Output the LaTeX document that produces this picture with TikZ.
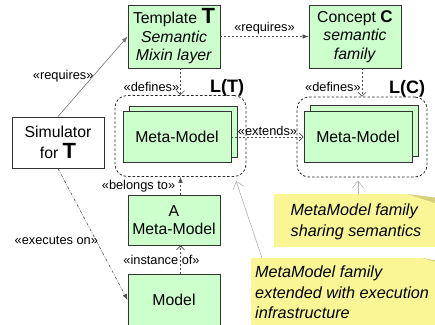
\documentclass[tikz,border=0pt]{standalone}
\usepackage{fontspec}
\setmainfont{Liberation Sans}
\usetikzlibrary{positioning,arrows.meta,calc}
\definecolor{boxgreen}{HTML}{CCFFCC}
\definecolor{notefill}{HTML}{FAF696}
\definecolor{foldfill}{HTML}{D6D07A}
\definecolor{edge}{HTML}{333333}
\newcommand\bxfont{\fontsize{15.8}{18.5}\selectfont}
\newcommand\lblfont{\fontsize{12.8}{14}\selectfont}
\newcommand\ntfont{\fontsize{16.2}{20.5}\selectfont\itshape}
\newcommand\bigT[1]{{\fontsize{22}{18}\selectfont\bfseries #1}}
\tikzset{
  box/.style={
    draw=edge, line width=0.9pt, fill=boxgreen,
    minimum width=92pt, align=center, font=\bxfont, inner sep=2pt
  },
  mm/.style={
    draw=edge, line width=0.9pt, fill=boxgreen,
    minimum width=108pt, minimum height=51pt, font=\bxfont
  },
  family/.style={
    draw=black!85, line width=0.8pt, dash pattern=on 2.5pt off 2pt,
    rounded corners=12pt
  },
  famlabel/.style={font=\fontsize{18}{20}\selectfont\bfseries, inner sep=0pt},
  lbl/.style={font=\lblfont, inner sep=1pt},
  dep/.style={draw=black!70, line width=0.6pt, dash pattern=on 2pt off 2pt},
  filled/.style={-{Latex[length=6pt,width=4.5pt]}},
  open/.style={-{Straight Barb[length=4pt,width=8pt]}},
  notelink/.style={draw=black!30, line width=0.6pt,
    -{Straight Barb[length=7pt,width=11pt]}},
  notetext/.style={font=\ntfont, align=left, inner sep=2pt}
}
\begin{document}
\begin{tikzpicture}[x=1pt,y=-1pt]
  \useasboundingbox (0,0) rectangle (435,324);
  \clip (0,0) rectangle (435,324);

  % notes
  \fill[notefill] (274,194) -- (407,194) -- (447,207) -- (447,247) -- (274,247) -- cycle;
  \fill[foldfill] (407,194) -- (447,199) -- (447,207) -- cycle;
  \node[notetext] (n1) at (356,222) {MetaModel family\\sharing semantics};
  \fill[notefill] (251,258) -- (422,258) -- (447,265) -- (447,330) -- (251,330) -- cycle;
  \fill[foldfill] (422,258) -- (447,262) -- (447,265) -- cycle;
  \node[notetext, anchor=north west] (n2) at (253,264)
    {MetaModel family\\extended with execution\\infrastructure};
  \coordinate (n1top) at (358,194);
  \coordinate (n2top) at (262,258);

  % boxes
  \node[box, minimum height=63pt] (tmpl) at (174,36.5)
    {Template \bigT{T}\\\textit{Semantic}\\\textit{Mixin layer}};
  \node[box, minimum height=63pt] (concept) at (355,36.5)
    {Concept {\fontsize{17}{18}\selectfont\bfseries C}\\\textit{semantic}\\\textit{family}};
  \node[box, fill=white, minimum height=51pt] (sim) at (58,142.5)
    {Simulator\\[2pt]for \bigT{T}};
  \node[box, minimum height=50pt] (amm) at (174,220) {A\\Meta-Model};
  \node[box, minimum height=52pt] (model) at (174,300) {Model};

  % language families
  \node[family, minimum width=131pt, minimum height=81pt] (LT) at (180.5,136) {};
  \node[family, minimum width=130pt, minimum height=80pt] (LC) at (362,137) {};
  \node[famlabel, anchor=base east] (LTlbl) at ($(LT.north east)+(-2,-3)$) {L(T)};
  \node[famlabel, anchor=base east] (LClbl) at ($(LC.north east)+(-2,-3)$) {L(C)};

  \node[mm] (mmTback) at (183,131.5) {};
  \node[mm] (mmT) at (177,137) {Meta-Model};
  \node[mm] (mmCback) at (364,131) {};
  \node[mm] (mmC) at (358,137) {Meta-Model};

  % dependencies
  \draw[dep, filled] (tmpl) -- (concept)
    node[lbl, midway, above=1pt] {«requires»};
  \draw[draw=black!55, line width=0.6pt, filled] (sim.north) -- (tmpl.west)
    node[lbl, midway, left=-2pt] {«requires»};
  \draw[dep, open] (tmpl.south -| LT.north) -- (LT.north)
    node[lbl, pos=0.7, anchor=east] {«defines»};
  \draw[dep, open] (concept.south -| LC.north) -- (LC.north)
    node[lbl, pos=0.65, anchor=east] {«defines»};
  \draw[dep, open] (mmT.east) -- (mmC.west)
    node[lbl, midway, above=0pt] {«extends»};
  \draw[dep, filled] (amm.north -| LT.south) -- (LT.south)
    node[lbl, midway, anchor=east, xshift=-4pt] {«belongs to»};
  \draw[dep, open] (model.north -| LT.south) -- (amm.south -| LT.south)
    node[lbl, midway, xshift=-19pt] {«instance of»};
  \draw[draw=black!70, line width=0.6pt, dash pattern=on 3pt off 1.5pt on 0.8pt off 1.5pt, filled]
    (sim.south) -- (model.west)
    node[lbl, pos=0.55, left=-3pt] {«executes on»};

  % note links
  \draw[notelink, shorten >=3pt] (n1top) -- (n1top |- LC.south);
  \draw[notelink, shorten >=2pt] (n2top) -- ($(LT.south east)+(-11,2)$);
\end{tikzpicture}
\end{document}
